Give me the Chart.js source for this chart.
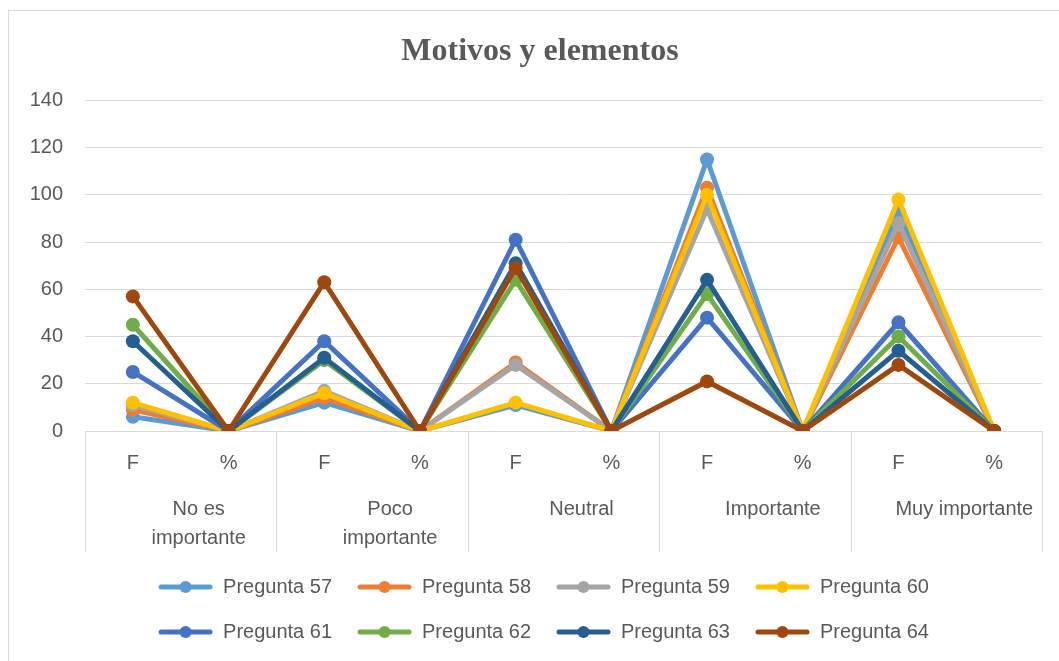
<!DOCTYPE html>
<html>
<head>
<meta charset="utf-8">
<script src="https://cdn.jsdelivr.net/npm/chart.js@4.4.0/dist/chart.umd.min.js"></script>
<style>
  body { margin: 0; background: #fff; }
  #wrap { position: relative; width: 1059px; height: 661px; overflow: hidden; }
  #frame { position: absolute; left: 8px; top: 10px; width: 1100px; height: 700px; border-left: 1px solid #d9d9d9; border-top: 1px solid #d9d9d9; }
  canvas { position: absolute; left: 0; top: 0; }
</style>
</head>
<body>
<div id="wrap">
  <div id="frame"></div>
  <canvas id="chart" width="1059" height="661"></canvas>
</div>
<script>
// sub categories (F / %) and the groups they belong to
const subLabels = ['F', '%', 'F', '%', 'F', '%', 'F', '%', 'F', '%'];
const groupLabels = [['No es', 'importante'], ['Poco', 'importante'], 'Neutral', 'Importante', 'Muy importante'];

const seriesNames = ['Pregunta 57', 'Pregunta 58', 'Pregunta 59', 'Pregunta 60',
                     'Pregunta 61', 'Pregunta 62', 'Pregunta 63', 'Pregunta 64'];

const p57 = [6, 0, 12, 0, 11, 0, 115, 0, 93, 0];
const p58 = [9, 0, 14, 0, 29, 0, 103, 0, 82, 0];
const p59 = [11, 0, 17, 0, 28, 0, 94, 0, 88, 0];
const p60 = [12, 0, 16, 0, 12, 0, 100, 0, 98, 0];
const p61 = [25, 0, 38, 0, 81, 0, 48, 0, 46, 0];
const p62 = [45, 0, 30, 0, 64, 0, 58, 0, 40, 0];
const p63 = [38, 0, 31, 0, 71, 0, 64, 0, 34, 0];
const p64 = [57, 0, 63, 0, 69, 0, 21, 0, 28, 0];

const yTicks = [0, 20, 40, 60, 80, 100, 120, 140];

const colors = ['#5B9BD5', '#ED7D31', '#A5A5A5', '#FFC000', '#4472C4', '#70AD47', '#255E91', '#9E480E'];
const allSeries = [p57, p58, p59, p60, p61, p62, p63, p64];

const textColor = '#595959';
const gridColor = '#d9d9d9';
const baseFont = "'Liberation Sans', Arial, sans-serif";

// little line + dot icon for the legend
function legendIcon(color) {
    const c = document.createElement('canvas');
    c.width = 55;
    c.height = 16;
    const ctx = c.getContext('2d');
    ctx.strokeStyle = color;
    ctx.lineWidth = 5;
    ctx.lineCap = 'round';
    ctx.beginPath();
    ctx.moveTo(3, 8);
    ctx.lineTo(52, 8);
    ctx.stroke();
    ctx.fillStyle = color;
    ctx.beginPath();
    ctx.arc(27.5, 8, 6, 0, Math.PI * 2);
    ctx.fill();
    return c;
}

const datasets = allSeries.map(function (values, i) {
    return {
        label: seriesNames[i],
        data: values,
        borderColor: colors[i],
        backgroundColor: colors[i],
        borderWidth: 5,
        pointRadius: 7,
        pointHoverRadius: 7,
        pointBorderWidth: 0,
        tension: 0,
        order: allSeries.length - i
    };
});

// vertical separators between the groups, below the axis
const groupLines = {
    id: 'groupLines',
    afterLayout(chart) {
        // excel puts the title and legend a bit off the plot centre
        chart.titleBlock.left += 19;
        chart.titleBlock.right += 19;
        chart.legend.left -= 20;
        chart.legend.right -= 20;
    },
    afterDraw(chart) {
        const x = chart.scales.x;
        const x2 = chart.scales.x2;
        const ctx = chart.ctx;
        const xs = [x.left];
        for (let i = 1; i < subLabels.length - 1; i += 2) {
            xs.push((x.getPixelForValue(i) + x.getPixelForValue(i + 1)) / 2);
        }
        xs.push(x.right);
        ctx.save();
        ctx.strokeStyle = gridColor;
        ctx.lineWidth = 1;
        xs.forEach(function (px) {
            const p = Math.round(px) + 0.5;
            ctx.beginPath();
            ctx.moveTo(p, chart.chartArea.bottom);
            ctx.lineTo(p, x2.bottom);
            ctx.stroke();
        });
        ctx.restore();
    }
};

new Chart(document.getElementById('chart'), {
    type: 'line',
    data: {
        labels: subLabels,
        datasets: datasets
    },
    options: {
        responsive: false,
        animation: false,
        layout: { padding: { left: 0, right: 17, top: 0, bottom: 9 } },
        plugins: {
            title: {
                display: true,
                text: 'Motivos y elementos',
                color: textColor,
                font: { family: "'Liberation Serif', 'Times New Roman', serif", size: 32, weight: 'bold' },
                padding: { top: 33, bottom: 29 }
            },
            legend: {
                position: 'bottom',
                fullSize: false,
                labels: {
                    usePointStyle: true,
                    pointStyleWidth: 55,
                    boxHeight: 16,
                    padding: 25,
                    color: textColor,
                    font: { family: baseFont, size: 20 },
                    generateLabels(chart) {
                        return chart.data.datasets.map(function (ds, i) {
                            return {
                                text: ds.label,
                                fillStyle: ds.borderColor,
                                strokeStyle: ds.borderColor,
                                pointStyle: legendIcon(ds.borderColor),
                                lineWidth: 0,
                                fontColor: textColor,
                                datasetIndex: i
                            };
                        });
                    }
                }
            },
            tooltip: { enabled: false }
        },
        scales: {
            y: {
                min: 0,
                max: 140,
                afterBuildTicks(scale) {
                    scale.ticks = yTicks.map(function (v) { return { value: v }; });
                },
                afterFit(scale) { scale.width = 85; },
                grid: { color: gridColor, drawTicks: false },
                border: { display: false },
                ticks: { color: textColor, font: { family: baseFont, size: 20 }, padding: 22 }
            },
            x: {
                offset: true,
                grid: { display: false, drawTicks: false },
                border: { display: true, color: gridColor },
                ticks: { color: textColor, font: { family: baseFont, size: 20 }, padding: 20, maxRotation: 0, autoSkip: false },
                afterFit(scale) { scale.height = 60; }
            },
            x2: {
                type: 'category',
                position: 'bottom',
                labels: groupLabels,
                offset: true,
                grid: { display: false, drawTicks: false },
                border: { display: false },
                ticks: { color: textColor, font: { family: baseFont, size: 20, lineHeight: 1.45 }, padding: 4, maxRotation: 0, autoSkip: false, labelOffset: 18 },
                afterFit(scale) { scale.height = 61; }
            }
        }
    },
    plugins: [groupLines]
});
</script>
</body>
</html>
